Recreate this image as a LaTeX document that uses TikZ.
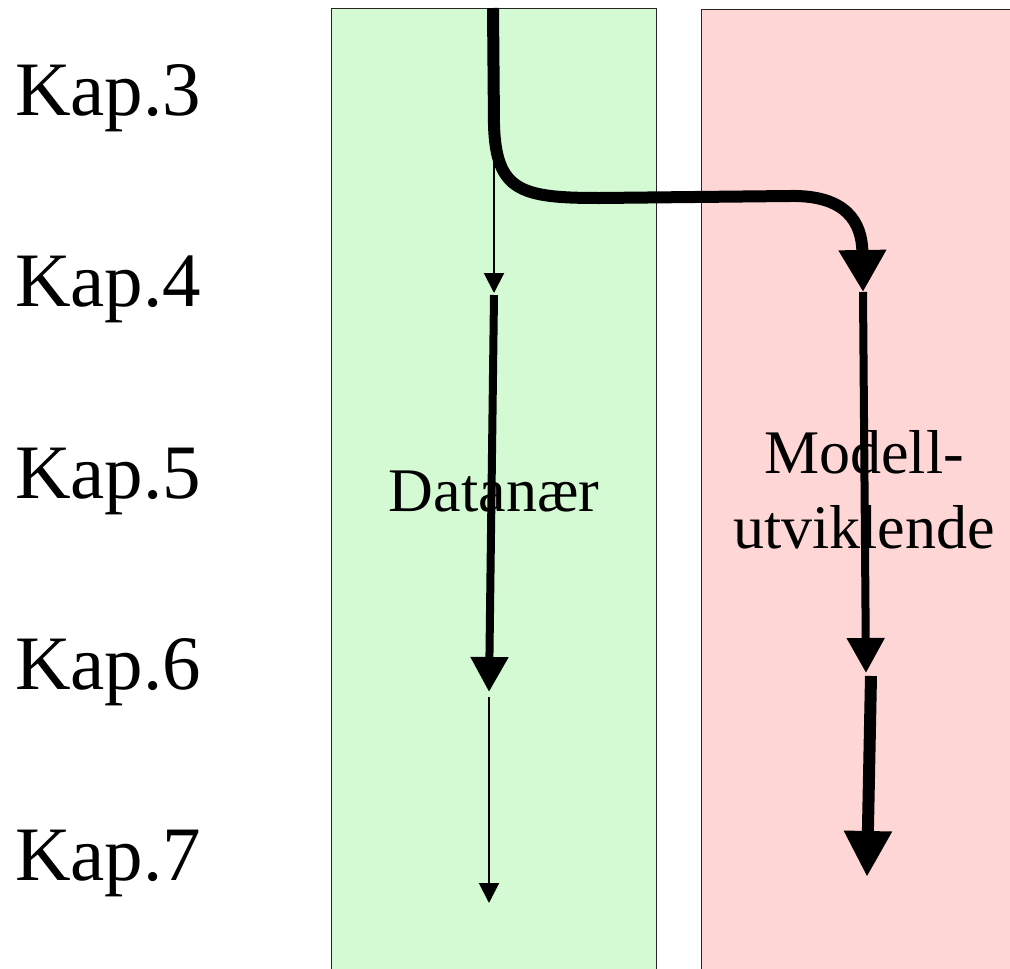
\documentclass[tikz,border=0pt]{standalone}
\usepackage{fontspec}
\setmainfont{Liberation Serif}
\usetikzlibrary{arrows.meta}
\definecolor{laneGreen}{RGB}{212,250,212}
\definecolor{laneRed}{RGB}{255,214,214}
\tikzset{
  lane/.style={draw=black!85, line width=1pt},
  kaplabel/.style={anchor=base west, inner sep=0pt, font=\fontsize{77}{80}\selectfont},
  lanelabel/.style={inner sep=0pt, align=center, font=\fontsize{62}{75}\selectfont},
  thinflow/.style={line width=2pt, -{Triangle[width=20pt,length=20pt]}},
  midflow/.style={line width=8pt, -{Triangle[width=36pt,length=35pt]}},
  boldflow/.style={line width=12pt, -{Triangle[width=45pt,length=42pt]}},
}
\begin{document}
\begin{tikzpicture}[x=1pt,y=-1pt]
\useasboundingbox (0,0) rectangle (1010,969);
\begin{scope}
\clip (0,0) rectangle (1010,969);
% the two lanes
\path[lane, fill=laneGreen] (331,8) rectangle (656,980);
\path[lane, fill=laneRed] (701,9) rectangle (1020,980);
\end{scope}

% chapter labels
\node[kaplabel] (k3) at (15,115) {Kap.3};
\node[kaplabel] (k4) at (15,306) {Kap.4};
\node[kaplabel] (k5) at (15,498) {Kap.5};
\node[kaplabel] (k6) at (15,689) {Kap.6};
\node[kaplabel] (k7) at (15,880) {Kap.7};

% lane labels
\node[lanelabel, anchor=base] (dn) at (494,511) {Datanær};
\node[lanelabel] (mu) at (864,490) {Modell-\\utviklende};

% flow points
\coordinate (top) at (493,8);
\coordinate (g0) at (494,100);
\coordinate (g4) at (494,293);
\coordinate (g4b) at (494,295);
\coordinate (g6) at (489,692);
\coordinate (g6b) at (489,697);
\coordinate (g7) at (489,903);
\coordinate (r4) at (863,292);
\coordinate (r6) at (866,673);
\coordinate (r6b) at (871,676);
\coordinate (r7) at (867,877);

% data-near lane
\draw[thinflow] (g0) -- (g4);
\draw[midflow] (g4b) -- (g6);
\draw[thinflow] (g6b) -- (g7);

% model-developing lane
\draw[boldflow] (top) -- (494,125) .. controls (496,192) and (522,198) .. (600,198)
  -- (790,196) .. controls (846,195) and (862,222) .. (r4);
\draw[midflow] (r4) -- (r6);
\draw[line width=12pt, -{Triangle[width=45pt,length=46pt]}] (r6b) -- (r7);
\end{tikzpicture}
\end{document}
